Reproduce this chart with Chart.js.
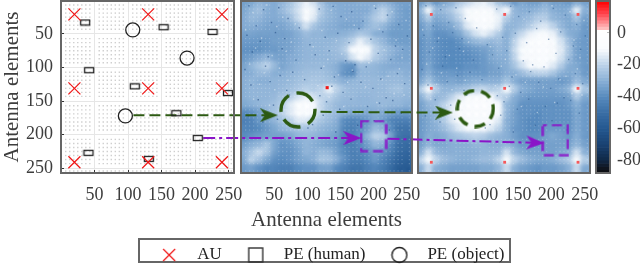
<!DOCTYPE html>
<html>
<head>
<meta charset="utf-8">
<style>
  html, body { margin: 0; padding: 0; background: #fff; overflow: hidden; }
  canvas.layer { position: absolute; left: 0; top: 0; }
  #legendBox { position: absolute; left: 138px; top: 238px; width: 373px; height: 25px; box-sizing: border-box; border: 2px solid #666; }
  #legend { position: absolute; left: 77px; top: 232px; }
</style>
<script src="https://cdn.jsdelivr.net/npm/chart.js@4"></script>
</head>
<body>
<canvas class="layer" id="panel3" width="640" height="265"></canvas>
<canvas class="layer" id="panel2" width="640" height="265"></canvas>
<canvas class="layer" id="panel1" width="640" height="265"></canvas>
<canvas class="layer" id="colorbar" width="640" height="265"></canvas>
<div id="legendBox"></div>
<canvas id="legend" width="500" height="60"></canvas>
<script>
// axis ticks
const xTickValues = [50, 100, 150, 200, 250];
const yTickValues = [50, 100, 150, 200, 250];
const colorbarTicks = [0, -20, -40, -60, -80];
const axisTitle = 'Antenna elements';
const legendNames = ['AU', 'PE (human)', 'PE (object)'];

// layout panel markers
const auX = [20, 130, 240, 20, 130, 240, 20, 130, 240];
const auY = [21, 21, 21, 131, 131, 131, 241, 241, 241];
const humanX = [36, 153, 226, 42, 110, 249, 172, 204, 41, 131];
const humanY = [33, 40, 47, 104, 128, 138, 168, 205, 227, 236];
const objectX = [107, 188, 96];
const objectY = [44, 86, 172];
const elementDots = [7, 13, 19, 25, 31, 37, 43, 57, 63, 69, 75, 81, 87, 93, 107, 113, 119, 125, 131, 137, 143, 157, 163, 169, 175, 181, 187, 193, 207, 213, 219, 225, 231, 237, 243, 254];

// heatmap cell centres, in antenna elements
const cellCentres = [6, 18, 29, 41, 53, 64, 76, 88, 100, 112, 123, 135, 147, 158, 170, 182, 193, 205, 217, 229, 240, 252];

// middle panel, dB
const middleDb = [
  [-34,-32,-28,-30,-31,-28,-24,-18,-12,-16,-25,-30,-31,-31,-31,-30,-30,-30,-28,-31,-34,-34],
  [-32,-28,-25,-30,-31,-27,-22,-16,-5,-12,-23,-28,-30,-31,-31,-31,-31,-25,-20,-27,-33,-35],
  [-31,-27,-28,-31,-31,-30,-26,-18,-5,-14,-25,-28,-30,-31,-31,-31,-28,-22,-19,-28,-33,-35],
  [-31,-30,-31,-33,-33,-33,-30,-26,-16,-24,-28,-30,-31,-33,-33,-33,-28,-25,-28,-33,-35,-35],
  [-34,-33,-34,-34,-34,-34,-33,-30,-26,-28,-28,-30,-30,-29,-27,-23,-25,-30,-31,-35,-35,-35],
  [-36,-36,-36,-36,-34,-34,-33,-31,-28,-28,-28,-28,-27,-25,-20,-12,-18,-24,-28,-33,-35,-35],
  [-38,-38,-38,-36,-36,-34,-33,-30,-28,-28,-28,-27,-26,-22,-10,-3,-8,-20,-25,-28,-31,-33],
  [-36,-34,-31,-28,-33,-34,-31,-30,-28,-28,-28,-28,-27,-26,-16,-8,-14,-22,-26,-30,-33,-33],
  [-33,-28,-24,-20,-27,-33,-30,-28,-27,-27,-27,-28,-30,-36,-38,-26,-27,-28,-30,-31,-31,-31],
  [-31,-30,-27,-27,-30,-30,-28,-27,-25,-25,-25,-27,-30,-38,-40,-28,-28,-28,-30,-28,-28,-30],
  [-30,-28,-30,-30,-28,-28,-27,-25,-24,-23,-24,-25,-27,-30,-28,-27,-27,-27,-27,-27,-27,-28],
  [-30,-28,-28,-28,-28,-27,-25,-23,-20,-22,-20,-12,-20,-25,-27,-27,-27,-27,-27,-25,-24,-27],
  [-30,-28,-28,-28,-27,-24,-21,-16,-12,-16,-20,-20,-24,-27,-27,-28,-28,-27,-27,-27,-27,-28],
  [-32,-30,-28,-27,-25,-22,-14,-5,-4,-10,-19,-24,-27,-28,-28,-28,-28,-28,-27,-28,-28,-30],
  [-40,-38,-34,-28,-24,-20,-14,-4,-3,-10,-20,-25,-27,-30,-32,-32,-32,-30,-32,-34,-36,-36],
  [-44,-42,-36,-32,-28,-24,-20,-14,-14,-20,-24,-27,-30,-40,-42,-40,-36,-32,-36,-42,-44,-44],
  [-42,-42,-40,-36,-32,-28,-26,-24,-24,-25,-28,-30,-32,-42,-44,-40,-34,-27,-30,-40,-48,-48],
  [-40,-38,-36,-34,-34,-34,-32,-28,-27,-28,-30,-32,-34,-42,-44,-38,-28,-20,-22,-34,-48,-50],
  [-34,-30,-28,-24,-32,-38,-36,-32,-28,-30,-32,-34,-36,-42,-44,-40,-34,-28,-30,-40,-50,-52],
  [-30,-24,-18,-24,-34,-38,-38,-34,-28,-30,-27,-28,-34,-40,-44,-42,-38,-34,-38,-44,-52,-54],
  [-32,-20,-25,-32,-38,-40,-38,-34,-32,-30,-24,-25,-30,-38,-44,-44,-40,-36,-42,-48,-54,-56],
  [-36,-34,-38,-42,-42,-44,-44,-40,-38,-38,-34,-34,-40,-44,-48,-48,-44,-42,-46,-52,-58,-60]
];

// right panel, dB
const rightDb = [
  [-34,-28,-36,-32,-28,-22,-18,-14,-12,-16,-24,-28,-36,-32,-34,-34,-30,-34,-34,-36,-30,-34],
  [-28,-10,-28,-26,-22,-16,-10,-7,-5,-7,-16,-10,-28,-30,-30,-28,-26,-30,-32,-30,-12,-30],
  [-32,-22,-32,-30,-26,-20,-10,-5,-3,-5,-12,-22,-28,-28,-26,-22,-22,-28,-30,-32,-24,-34],
  [-36,-30,-36,-34,-32,-26,-14,-7,-4,-7,-14,-28,-28,-26,-22,-16,-15,-20,-28,-32,-30,-36],
  [-36,-32,-38,-38,-36,-32,-24,-16,-12,-16,-22,-30,-24,-18,-12,-9,-9,-12,-22,-30,-32,-36],
  [-38,-34,-38,-40,-40,-38,-32,-28,-26,-28,-26,-30,-20,-12,-6,-4,-5,-8,-16,-26,-34,-36],
  [-38,-34,-38,-40,-40,-40,-38,-36,-34,-32,-28,-30,-18,-8,-4,-2,-3,-6,-14,-24,-34,-36],
  [-38,-34,-38,-40,-40,-40,-40,-38,-36,-32,-30,-30,-20,-10,-5,-3,-4,-8,-16,-26,-34,-36],
  [-38,-32,-38,-40,-40,-40,-38,-38,-36,-34,-32,-30,-24,-16,-10,-7,-9,-14,-22,-30,-32,-36],
  [-36,-30,-36,-36,-36,-38,-36,-36,-36,-34,-34,-30,-30,-26,-22,-20,-20,-24,-30,-32,-30,-36],
  [-32,-24,-32,-34,-32,-34,-32,-30,-30,-30,-30,-24,-30,-34,-34,-34,-34,-34,-36,-34,-26,-32],
  [-22,-8,-22,-28,-28,-26,-24,-20,-18,-22,-20,-8,-22,-30,-32,-34,-34,-34,-32,-28,-10,-24],
  [-30,-20,-28,-26,-20,-14,-8,-5,-5,-8,-18,-22,-30,-34,-36,-36,-36,-36,-36,-34,-22,-32],
  [-34,-28,-26,-20,-14,-7,-3,-2,-2,-4,-10,-28,-32,-38,-38,-38,-38,-38,-38,-36,-30,-36],
  [-34,-30,-28,-20,-12,-5,-2,-2,-2,-3,-8,-28,-34,-38,-38,-40,-38,-38,-38,-38,-32,-36],
  [-36,-32,-28,-22,-14,-8,-4,-3,-3,-6,-14,-30,-34,-38,-40,-40,-38,-38,-38,-38,-32,-36],
  [-36,-32,-30,-26,-20,-14,-10,-8,-10,-14,-20,-30,-36,-38,-40,-40,-36,-36,-36,-38,-32,-36],
  [-36,-30,-32,-30,-26,-24,-22,-20,-22,-26,-28,-30,-34,-38,-38,-38,-34,-32,-34,-36,-30,-36],
  [-34,-28,-32,-32,-30,-30,-30,-28,-28,-30,-30,-28,-32,-36,-36,-36,-34,-34,-34,-34,-28,-34],
  [-30,-16,-28,-30,-30,-30,-30,-30,-28,-28,-28,-16,-28,-32,-34,-34,-34,-34,-32,-30,-16,-30],
  [-20,-8,-20,-26,-28,-30,-30,-28,-26,-26,-20,-8,-20,-26,-30,-32,-32,-30,-26,-22,-8,-22],
  [-30,-18,-30,-32,-34,-34,-34,-34,-32,-32,-28,-18,-30,-34,-36,-38,-36,-36,-34,-30,-18,-32]
];

// grain seen on the two heatmaps, in antenna elements
const darkSpeckX = [12,34,57,71,23,46,88,118,139,151,167,184,203,221,238,9,29,52,66,104,127,146,163,178,196,214,233,251,17,41,62,83,112,133,158,172,207,226,244,6,37,59,78,96,121,141,169,189,211,236,15,44,69,119,137,154,181,199,219,247,26,49,73,108,129,149,166,191,209,229,11,33,55,101,124,143,176,201,224,242];
const darkSpeckY = [8,14,11,27,38,33,41,13,9,24,17,31,12,22,36,52,61,48,57,66,55,49,63,42,58,47,68,53,77,84,72,89,81,75,90,96,79,88,73,103,98,112,107,118,101,114,106,99,117,109,126,121,134,142,128,137,122,131,145,124,148,156,141,185,151,162,147,158,153,149,172,181,177,190,171,196,186,179,193,168];
const lightSpeckX = [18,39,63,82,114,136,159,201,228,249,7,31,54,76,122,144,171,209,234,22,47,68,109,131,152,193,216,243,13,35,58,125,147,168,197,222,239,28,51,71,116,139,161,188,213,231,19,43,66,103,133,155,179,205,246];
const lightSpeckY = [18,7,25,35,21,15,28,8,17,30,44,56,39,62,45,60,37,43,59,71,82,76,69,88,80,93,74,85,95,108,101,98,111,104,90,113,102,125,133,119,127,136,122,129,118,139,147,156,163,150,144,158,167,152,141];

// colour bar levels and colour stops
const colorbarLevels = [20,18,16,14,12,10,8,6,4,2,0,-2,-4,-6,-8,-10,-12,-14,-16,-18,-20,-22,-24,-26,-28,-30,-32,-34,-36,-38,-40,-42,-44,-46,-48,-50,-52,-54,-56,-58,-60,-62,-64,-66,-68,-70,-72,-74,-76,-78,-80,-82,-84,-86];
const stopDb = [20, 12, 3, 1, -10, -20, -30, -40, -50, -60, -70, -80, -84, -88];
const stopRgb = [[255,0,0],[255,70,80],[255,190,190],[255,255,255],[250,252,254],[190,212,234],[138,176,214],[88,139,190],[58,110,165],[36,88,144],[26,66,114],[16,40,70],[16,24,36],[12,12,14]];

// dashed arrows crossing the panels, x runs past the panel on purpose
const greenLeftX = [108, 309];
const greenLeftY = [171, 171];
const greenRightX = [120, 303];
const greenRightY = [166, 167];
const purpleLeftX = [212, 436];
const purpleLeftY = [205, 205];
const purpleRightX = [221, 441];
const purpleRightY = [206, 212];

const serif = '"Liberation Serif", serif';
const grey = '#3d3d3d';
const lineGreen = '#2c5a12';
const linePurple = '#8a14c8';

function colourFor(db) {
    for (let i = 1; i < stopDb.length; i++) {
        if (db >= stopDb[i]) {
            const t = (db - stopDb[i]) / (stopDb[i - 1] - stopDb[i]);
            const c = stopRgb[i].map((v, k) => Math.round(v + (stopRgb[i - 1][k] - v) * t));
            return 'rgb(' + c.join(',') + ')';
        }
    }
    return 'rgb(12,12,14)';
}

// small canvases used as point styles
function glyph(w, h, paint) {
    const c = document.createElement('canvas');
    c.width = w;
    c.height = h;
    paint(c.getContext('2d'), w, h);
    return c;
}

function arrowPath(g, colour) {
    g.fillStyle = colour;
    g.beginPath();
    g.moveTo(0, 0);
    g.lineTo(18, 7);
    g.lineTo(0, 14);
    g.lineTo(5, 7);
    g.closePath();
    g.fill();
}

const humanGlyph = glyph(12, 8, (g) => {
    g.strokeStyle = '#222';
    g.lineWidth = 1.3;
    g.strokeRect(1.5, 1.5, 9, 5);
});

const arrowGreen = glyph(18, 14, (g) => arrowPath(g, lineGreen));
const arrowPurple = glyph(18, 14, (g) => arrowPath(g, linePurple));

function dashedRing(size, dash, offset) {
    return glyph(size, size, (g) => {
        g.strokeStyle = lineGreen;
        g.lineWidth = 3.4;
        g.setLineDash(dash);
        g.lineDashOffset = offset;
        g.beginPath();
        g.arc(size / 2, size / 2, size / 2 - 2, 0, Math.PI * 2);
        g.stroke();
    });
}

function dashedBox(w, h, dash, offset) {
    return glyph(w, h, (g) => {
        g.strokeStyle = linePurple;
        g.lineWidth = 2.2;
        g.setLineDash(dash);
        g.lineDashOffset = offset;
        g.strokeRect(1.5, 1.5, w - 3, h - 3);
    });
}

const xGlyph = glyph(16, 16, (g) => {
    g.strokeStyle = '#f01818';
    g.lineWidth = 1.3;
    g.beginPath();
    g.moveTo(2, 2);
    g.lineTo(14, 14);
    g.moveTo(14, 2);
    g.lineTo(2, 14);
    g.stroke();
});
const squareGlyph = glyph(18, 18, (g) => {
    g.strokeStyle = '#333';
    g.lineWidth = 1.4;
    g.strokeRect(2, 2, 14, 14);
});
const circleGlyph = glyph(18, 18, (g) => {
    g.strokeStyle = '#222';
    g.lineWidth = 1.4;
    g.beginPath();
    g.arc(9, 9, 7.5, 0, Math.PI * 2);
    g.stroke();
});

function toPoints(xs, ys) {
    return xs.map((x, i) => ({ x: x, y: ys[i] }));
}

function heatPoints(rows) {
    const pts = [];
    rows.forEach((row, r) => {
        row.forEach((db, c) => {
            pts.push({ x: cellCentres[c], y: cellCentres[r], db: db });
        });
    });
    return pts;
}

// one axis of a panel, room is the fixed space it takes, so the plot box stays put
function edgeAxis(position, ticksList, o) {
    const horizontal = position === 'top' || position === 'bottom';
    return {
        type: 'linear',
        position: position,
        axis: horizontal ? 'x' : 'y',
        min: horizontal ? 0 : (o.min !== undefined ? o.min : 1),
        max: horizontal ? 258 : (o.max !== undefined ? o.max : 257),
        reverse: !horizontal && !o.upright,
        afterBuildTicks: (s) => { s.ticks = ticksList.map((v) => ({ value: v })); },
        afterFit: (s) => {
            if (horizontal) s.height = o.room || 1; else s.width = o.room || 1;
            s.paddingLeft = s.paddingRight = s.paddingTop = s.paddingBottom = 0;
        },
        ticks: {
            display: !!o.labels,
            autoSkip: false,
            maxRotation: 0,
            padding: o.pad || 0,
            color: grey,
            font: { family: serif, size: 18 }
        },
        grid: {
            display: true,
            color: o.gridColor || 'transparent',
            drawOnChartArea: !!o.gridColor,
            tickLength: -3,
            tickColor: '#333',
            tickWidth: 1
        },
        border: { display: false },
        title: o.title ? {
            display: true,
            text: axisTitle,
            color: grey,
            padding: 0,
            font: { family: serif, size: 21 }
        } : { display: false }
    };
}

const panelFrame = {
    id: 'panelFrame',
    beforeDatasetsDraw(chart) {
        const a = chart.chartArea;
        if (chart.canvas.id === 'panel2' || chart.canvas.id === 'panel3') {
            chart.ctx.fillStyle = '#7ea6cf';
            chart.ctx.fillRect(a.left, a.top, a.right - a.left, a.bottom - a.top);
        }
    },
    beforeDatasetDraw(chart, args) {
        if (args.meta.label === 'heat') chart.ctx.filter = 'blur(2px)';
    },
    afterDatasetDraw(chart, args) {
        if (args.meta.label === 'heat') chart.ctx.filter = 'none';
    },
    afterDraw(chart) {
        const a = chart.chartArea;
        chart.ctx.save();
        chart.ctx.strokeStyle = '#666';
        chart.ctx.lineWidth = 2;
        chart.ctx.strokeRect(a.left, a.top, a.right - a.left, a.bottom - a.top);
        chart.ctx.restore();
    }
};

function baseOptions(padding, scales) {
    return {
        responsive: false,
        animation: false,
        events: [],
        devicePixelRatio: 1,
        layout: { padding: padding, autoPadding: false },
        plugins: { legend: { display: false }, tooltip: { enabled: false } },
        scales: scales
    };
}

function overlayLine(xs, ys, colour, dash) {
    return {
        type: 'line',
        data: toPoints(xs, ys),
        borderColor: colour,
        borderWidth: 2,
        borderDash: dash,
        pointRadius: 0,
        clip: false,
        order: 1
    };
}

function markerSet(xs, ys, style, extra) {
    return Object.assign({
        type: 'scatter',
        data: toPoints(xs, ys),
        pointStyle: style,
        clip: false,
        order: 0
    }, extra || {});
}

// layout panel dots, also used as the faint weave on the heatmaps
const dotXs = [];
const dotYs = [];
elementDots.forEach((a) => elementDots.forEach((b) => { dotXs.push(a); dotYs.push(b); }));

function speckSets(colourDark, colourLight) {
    return [
        markerSet(darkSpeckX, darkSpeckY, 'rect', { pointRadius: 1, pointBorderWidth: 0, pointBackgroundColor: colourDark, order: 3 }),
        markerSet(lightSpeckX, lightSpeckY, 'rect', { pointRadius: 1, pointBorderWidth: 0, pointBackgroundColor: colourLight, order: 3 }),
        markerSet(dotXs, dotYs, 'rect', { pointRadius: 0.9, pointBorderWidth: 0, pointBackgroundColor: 'rgba(255,255,255,0.2)', order: 4 })
    ];
}

function heatSet(rows) {
    return {
        type: 'scatter',
        label: 'heat',
        data: heatPoints(rows),
        pointStyle: 'rect',
        pointRadius: 7.8,
        pointBorderWidth: 0,
        pointBackgroundColor: (c) => colourFor(c.raw.db),
        clip: 0,
        order: 5
    };
}

new Chart(document.getElementById('panel1'), {
    type: 'scatter',
    data: {
        datasets: [
            overlayLine(greenLeftX, greenLeftY, lineGreen, [11, 5]),
            overlayLine(purpleLeftX, purpleLeftY, linePurple, [12, 4, 3, 4]),
            markerSet(auX, auY, 'crossRot', { pointRadius: 8.5, pointBorderColor: '#f01818', pointBorderWidth: 1.2 }),
            markerSet(humanX, humanY, humanGlyph),
            markerSet(objectX, objectY, 'circle', { pointRadius: 7, pointBorderColor: '#222', pointBorderWidth: 1.3, pointBackgroundColor: 'transparent' }),
            markerSet(dotXs, dotYs, 'rect', { pointRadius: 1, pointBorderWidth: 0, pointBackgroundColor: '#cfcfcf', order: 6 })
        ]
    },
    options: baseOptions({ left: 0, right: 406, top: 1, bottom: 32 }, {
        x: edgeAxis('bottom', xTickValues, { labels: true, pad: 14, room: 60, gridColor: '#e6e6e6' }),
        y: edgeAxis('left', yTickValues, { labels: true, pad: 11, room: 61, title: true, gridColor: '#e6e6e6' })
    }),
    plugins: [panelFrame]
});

// middle panel
new Chart(document.getElementById('panel2'), {
    type: 'scatter',
    data: {
        datasets: [
            overlayLine(greenRightX, greenRightY, lineGreen, [11, 5]),
            overlayLine(purpleRightX, purpleRightY, linePurple, [12, 4, 3, 4]),
            markerSet([42], [171], arrowGreen),
            markerSet([168], [205], arrowPurple),
            markerSet([86], [163], dashedRing(38, [19, 8], 3)),
            markerSet([200], [202], dashedBox(28, 33, [10, 5], 2)),
            markerSet([130], [130], 'rect', { pointRadius: 2.2, pointBorderWidth: 0, pointBackgroundColor: '#f01818' }),
            ...speckSets('rgba(28,70,125,0.55)', 'rgba(235,243,250,0.5)'),
            heatSet(middleDb)
        ]
    },
    options: baseOptions({ left: 240, right: 227, top: 0, bottom: 32 }, {
        x: edgeAxis('bottom', xTickValues, { labels: true, pad: 14, room: 60, title: true }),
        y: edgeAxis('left', yTickValues, {}),
        xTop: edgeAxis('top', xTickValues, {}),
        yRight: edgeAxis('right', yTickValues, {})
    }),
    plugins: [panelFrame]
});

// right panel
new Chart(document.getElementById('panel3'), {
    type: 'scatter',
    data: {
        datasets: [
            markerSet([39], [167], arrowGreen),
            markerSet([176], [212], arrowPurple, { pointRotation: 2 }),
            markerSet([86], [161], dashedRing(40, [11, 7], 0)),
            markerSet([206], [208], dashedBox(28, 33, [10, 5], 6)),
            markerSet(auX, auY, 'rect', { pointRadius: 2, pointBorderWidth: 0, pointBackgroundColor: '#f5585a' }),
            ...speckSets('rgba(40,85,140,0.5)', 'rgba(235,243,250,0.5)'),
            heatSet(rightDb)
        ]
    },
    options: baseOptions({ left: 417, right: 49, top: 0, bottom: 32 }, {
        x: edgeAxis('bottom', xTickValues, { labels: true, pad: 14, room: 60 }),
        y: edgeAxis('left', yTickValues, {}),
        xTop: edgeAxis('top', xTickValues, {}),
        yRight: edgeAxis('right', yTickValues, {})
    }),
    plugins: [panelFrame]
});

// colour bar, one floating bar per level
new Chart(document.getElementById('colorbar'), {
    type: 'bar',
    data: {
        labels: ['dB'],
        datasets: colorbarLevels.map((lv) => ({
            data: [[lv - 2, lv]],
            backgroundColor: colourFor(lv - 1),
            barPercentage: 1,
            categoryPercentage: 1,
            grouped: false,
            borderWidth: 0
        }))
    },
    options: baseOptions({ left: 596, right: 0, top: 1, bottom: 92 }, {
        x: { type: 'category', display: false, offset: true, grid: { display: false } },
        y: edgeAxis('right', colorbarTicks, { labels: true, pad: 10, room: 30, upright: true, min: -88, max: 20 })
    }),
    plugins: [panelFrame]
});

// legend, the glyphs sit centred in wide boxes
new Chart(document.getElementById('legend'), {
    type: 'scatter',
    data: {
        datasets: legendNames.map((name, i) => ({
            label: name,
            data: [],
            pointStyle: [xGlyph, squareGlyph, circleGlyph][i]
        }))
    },
    options: {
        responsive: false,
        animation: false,
        events: [],
        devicePixelRatio: 1,
        layout: { padding: 0, autoPadding: false },
        scales: { x: { display: false }, y: { display: false } },
        plugins: {
            tooltip: { enabled: false },
            legend: {
                display: true,
                position: 'top',
                align: 'center',
                maxHeight: 60,
                labels: {
                    usePointStyle: true,
                    pointStyleWidth: 39,
                    padding: 14.5,
                    color: '#222',
                    font: { family: serif, size: 17 }
                }
            }
        }
    }
});
</script>
</body>
</html>
